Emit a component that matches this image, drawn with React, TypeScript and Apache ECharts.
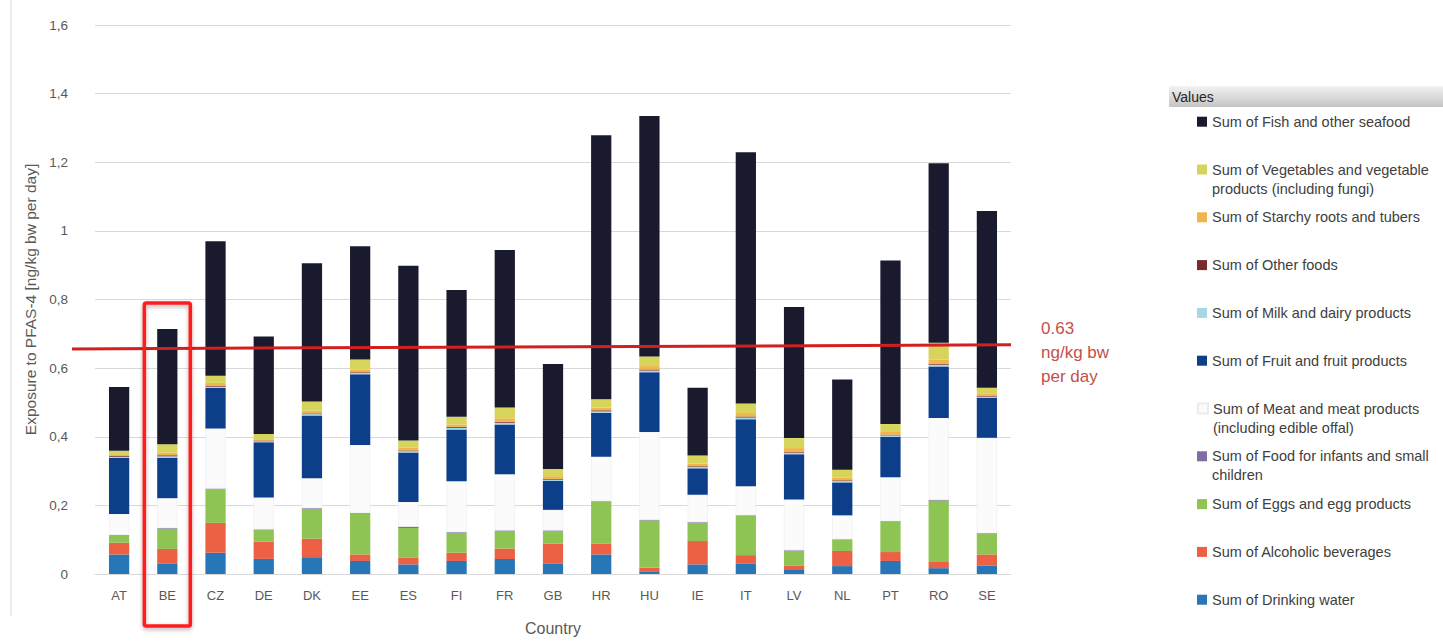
import React, { useEffect, useRef } from "react";
import * as echarts from "echarts";

const categories = ["AT","BE","CZ","DE","DK","EE","ES","FI","FR","GB","HR","HU","IE","IT","LV","NL","PT","RO","SE"];

const drinkingWater = [0.057,0.031,0.062,0.044,0.049,0.038,0.028,0.038,0.044,0.031,0.057,0.006,0.028,0.031,0.014,0.023,0.038,0.017,0.025];
const alcoholic = [0.034,0.042,0.087,0.050,0.054,0.019,0.019,0.024,0.030,0.057,0.032,0.012,0.068,0.024,0.011,0.044,0.026,0.018,0.032];
const eggs = [0.021,0.059,0.098,0.034,0.087,0.119,0.087,0.058,0.051,0.037,0.121,0.138,0.053,0.114,0.042,0.032,0.088,0.179,0.060];
const infants = [0.002,0.002,0.002,0.002,0.002,0.002,0.004,0.002,0.002,0.002,0.002,0.002,0.002,0.002,0.002,0.002,0.002,0.002,0.002];
const meat = [0.061,0.087,0.175,0.093,0.087,0.198,0.072,0.148,0.164,0.060,0.130,0.256,0.080,0.085,0.148,0.070,0.128,0.239,0.278];
const fruit = [0.164,0.118,0.118,0.161,0.183,0.206,0.144,0.151,0.145,0.084,0.128,0.174,0.077,0.195,0.132,0.096,0.118,0.150,0.116];
const milk = [0.003,0.004,0.004,0.003,0.004,0.004,0.004,0.005,0.005,0.004,0.004,0.005,0.004,0.005,0.004,0.004,0.004,0.005,0.004];
const otherFoods = [0.002,0.003,0.003,0.002,0.002,0.002,0.002,0.003,0.003,0.002,0.003,0.003,0.002,0.003,0.002,0.002,0.002,0.003,0.002];
const starchy = [0.003,0.008,0.008,0.004,0.008,0.008,0.008,0.007,0.010,0.008,0.008,0.010,0.008,0.010,0.012,0.008,0.008,0.012,0.006];
const vegetables = [0.012,0.024,0.021,0.015,0.027,0.029,0.021,0.022,0.031,0.021,0.024,0.028,0.023,0.028,0.029,0.023,0.023,0.049,0.018];
const fish = [0.186,0.336,0.392,0.284,0.403,0.330,0.509,0.370,0.459,0.306,0.770,0.701,0.198,0.732,0.382,0.263,0.477,0.523,0.515];

const yTicks = [0, 0.2, 0.4, 0.6, 0.8, 1, 1.2, 1.4, 1.6];
const thresholdLabel = ["0.63", "ng/kg bw", "per day"];
const thresholdLeft = 0.656;
const thresholdRight = 0.668;
const highlightCategory = "BE";
const highlightTop = 0.79;

// stacking order, bottom first
const seriesDefs = [
  { name: "Sum of Drinking water", label: ["Sum of Drinking water"], data: drinkingWater, color: "#2676b8" },
  { name: "Sum of Alcoholic beverages", label: ["Sum of Alcoholic beverages"], data: alcoholic, color: "#ec6044" },
  { name: "Sum of Eggs and egg products", label: ["Sum of Eggs and egg products"], data: eggs, color: "#8ec453" },
  { name: "Sum of Food for infants and small children", label: ["Sum of Food for infants and small", "children"], data: infants, color: "#7d6fa3" },
  { name: "Sum of Meat and meat products (including edible offal)", label: ["Sum of Meat and meat products", "(including edible offal)"], data: meat, color: "#fbfbfb" },
  { name: "Sum of Fruit and fruit products", label: ["Sum of Fruit and fruit products"], data: fruit, color: "#0c3e8a" },
  { name: "Sum of Milk and dairy products", label: ["Sum of Milk and dairy products"], data: milk, color: "#a6d7e6" },
  { name: "Sum of Other foods", label: ["Sum of Other foods"], data: otherFoods, color: "#7a2a2a" },
  { name: "Sum of Starchy roots and tubers", label: ["Sum of Starchy roots and tubers"], data: starchy, color: "#f0b64c" },
  { name: "Sum of Vegetables and vegetable products (including fungi)", label: ["Sum of Vegetables and vegetable", "products (including fungi)"], data: vegetables, color: "#d6d45a" },
  { name: "Sum of Fish and other seafood", label: ["Sum of Fish and other seafood"], data: fish, color: "#1a1a2e" },
];

const FONT = "Liberation Sans";

export default function App() {
  const ref = useRef<HTMLDivElement>(null);
  useEffect(() => {
    if (!ref.current) return;
    const chart = echarts.init(ref.current, null, { renderer: "svg" });

    const legendOrder = [...seriesDefs].reverse();
    const legendTop0 = 121.7;
    const legendStep = 47.8;
    const legends = legendOrder.map((s, i) => {
      const center = legendTop0 + i * legendStep;
      const two = s.label.length > 1;
      return {
        data: [s.name],
        left: 1197,
        top: two ? center - 28.5 : center - 9.5,
        orient: "vertical",
        padding: 0,
        itemWidth: 10,
        itemHeight: 10,
        itemGap: 0,
        icon: "rect",
        selectedMode: false,
        // two-line labels get an empty leading line so the first line sits level with the icon
        formatter: () => (two ? " \n" + s.label.join("\n") : s.label[0]),
        textStyle: {
          fontFamily: FONT,
          fontSize: 14.5,
          color: "#404040",
          lineHeight: 19,
        },
      };
    });

    const option: any = {
      animation: false,
      backgroundColor: "#ffffff",
      grid: { left: 95, right: 432, top: 25, bottom: 63 },
      legend: legends,
      xAxis: {
        type: "category",
        data: categories,
        name: "Country",
        nameLocation: "middle",
        nameGap: 46,
        nameTextStyle: { fontFamily: FONT, fontSize: 16, color: "#595959" },
        axisLine: { show: true, lineStyle: { color: "#d9d9d9" } },
        axisTick: { show: false },
        axisLabel: { fontFamily: FONT, fontSize: 13, color: "#595959", margin: 15 },
      },
      yAxis: {
        type: "value",
        min: 0,
        max: 1.6,
        interval: 0.2,
        name: "Exposure to PFAS-4 [ng/kg bw per day]",
        nameLocation: "middle",
        nameGap: 47,
        nameRotate: 90,
        nameTextStyle: { fontFamily: FONT, fontSize: 15.5, color: "#595959" },
        axisLine: { show: false },
        axisTick: { show: false },
        splitLine: { lineStyle: { color: "#d9d9d9", width: 1 } },
        axisLabel: {
          fontFamily: FONT,
          fontSize: 13.5,
          color: "#595959",
          margin: 27,
          formatter: (v: number) => {
            const t = yTicks.find((k) => Math.abs(k - v) < 1e-9);
            return String(t !== undefined ? t : v).replace(".", ",");
          },
        },
      },
      series: seriesDefs.map((s) => ({
        name: s.name,
        type: "bar",
        stack: "total",
        barWidth: "42%",
        data: s.data,
        itemStyle: {
          color: s.color,
          borderColor: s.color === "#fbfbfb" ? "#ececec" : undefined,
          borderWidth: s.color === "#fbfbfb" ? 0.6 : 0,
        },
      })),
    };
    chart.setOption(option);

    const y0 = chart.convertToPixel({ yAxisIndex: 0 }, 0) as number;
    const yL = chart.convertToPixel({ yAxisIndex: 0 }, thresholdLeft) as number;
    const yR = chart.convertToPixel({ yAxisIndex: 0 }, thresholdRight) as number;
    const yTop = chart.convertToPixel({ yAxisIndex: 0 }, highlightTop) as number;
    const xBE = chart.convertToPixel({ xAxisIndex: 0 }, highlightCategory) as number;
    const gridRight = 1443 - 432;

    chart.setOption({
      graphic: [
        {
          type: "line",
          shape: { x1: 11, y1: 0, x2: 11, y2: 616 },
          style: { stroke: "#e6e6e6", lineWidth: 1.5 },
          silent: true,
        },
        {
          type: "rect",
          shape: { x: 1169, y: 86, width: 274, height: 21 },
          style: {
            fill: new echarts.graphic.LinearGradient(0, 0, 0, 1, [
              { offset: 0, color: "#f2f2f2" },
              { offset: 1, color: "#c4c4c4" },
            ]),
          },
          silent: true,
        },
        {
          type: "text",
          x: 1172,
          y: 96.5,
          style: { text: "Values", fontFamily: FONT, fontSize: 14, fill: "#262626", verticalAlign: "middle" },
          silent: true,
        },
        {
          type: "line",
          shape: { x1: 72, y1: yL, x2: gridRight, y2: yR },
          style: { stroke: "#d21f1f", lineWidth: 3 },
          z: 100,
          silent: true,
        },
        {
          type: "rect",
          shape: { x: xBE - 23, y: yTop, width: 46, height: y0 + 52 - yTop, r: 2 },
          style: {
            fill: "none",
            stroke: "#ff1a1a",
            lineWidth: 3.5,
            shadowBlur: 4,
            shadowOffsetY: 2,
            shadowColor: "rgba(0,0,0,0.3)",
          },
          z: 100,
          silent: true,
        },
        {
          type: "text",
          x: 1041,
          y: 316,
          style: {
            text: thresholdLabel.join("\n"),
            fontFamily: FONT,
            fontSize: 17,
            lineHeight: 24,
            fill: "#c4504a",
            verticalAlign: "top",
          },
          silent: true,
        },
      ],
    });

    return () => chart.dispose();
  }, []);
  return (
    <div
      ref={ref}
      style={{ position: "fixed", left: 0, top: 0, width: 1443, height: 641 }}
    />
  );
}
